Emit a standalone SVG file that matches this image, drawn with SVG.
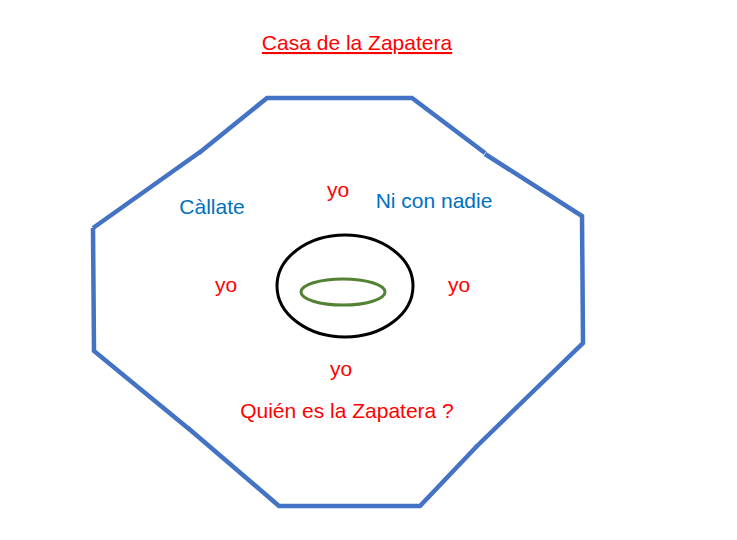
<svg xmlns="http://www.w3.org/2000/svg" width="737" height="540" viewBox="0 0 737 540">
<style>
.oct{fill:none;stroke:#4472C4;stroke-width:4.5;stroke-linejoin:miter;stroke-linecap:butt}
.t{font-family:"Liberation Sans",Arial,sans-serif;font-size:21px;text-anchor:middle}
.r{fill:#FF0000}
.b{fill:#0070C0}
</style>
<rect width="737" height="540" fill="#ffffff"/>
<g id="house">
<polyline class="oct" points="93,228 200,152"/>
<polyline class="oct" points="199,153 267,98 412,98 485,153"/>
<polyline class="oct" points="485,154 582,216 583,343 516,408"/>
<polyline class="oct" points="517,407 476,447"/>
<polyline class="oct" points="477,446 420,506 279,506 188,428"/>
<polyline class="oct" points="189,429 94,351 93,228"/>
</g>
<g id="title"><text class="t r" x="357" y="50" text-decoration="underline">Casa de la Zapatera</text></g>
<g id="outer-ellipse"><ellipse cx="345" cy="286" rx="68" ry="51" fill="none" stroke="#000000" stroke-width="3"/></g>
<g id="inner-ellipse"><ellipse cx="343" cy="292" rx="42" ry="13" fill="none" stroke="#548235" stroke-width="3"/></g>
<g id="callate"><text class="t b" x="212" y="214">Càllate</text></g>
<g id="yo-top"><text class="t r" x="338" y="197">yo</text></g>
<g id="ni-con-nadie"><text class="t b" x="434" y="208">Ni con nadie</text></g>
<g id="yo-left"><text class="t r" x="226" y="292">yo</text></g>
<g id="yo-right"><text class="t r" x="459" y="292">yo</text></g>
<g id="yo-bottom"><text class="t r" x="341" y="376">yo</text></g>
<g id="question"><text class="t r" x="347" y="418">Quién es la Zapatera ?</text></g>
</svg>
